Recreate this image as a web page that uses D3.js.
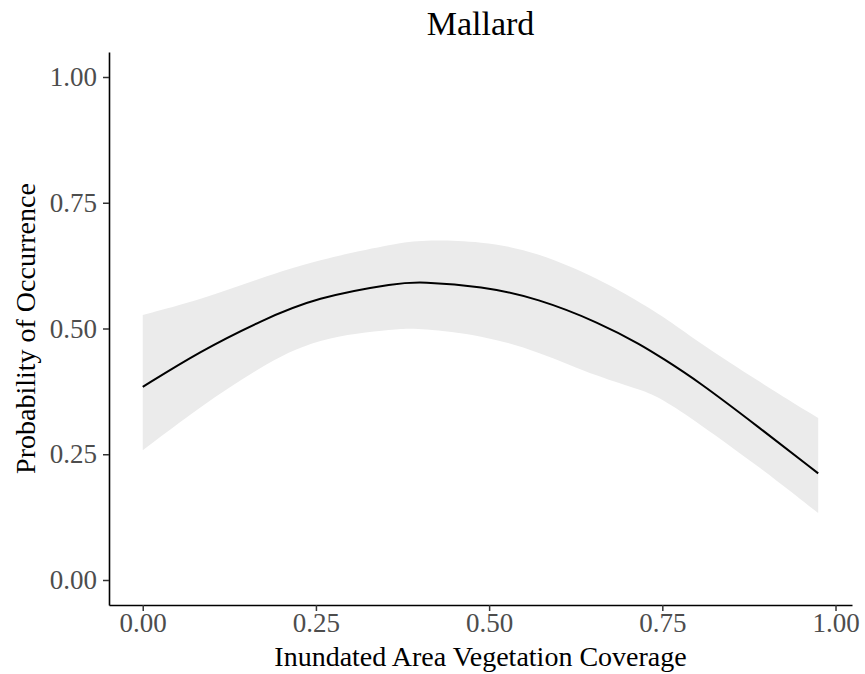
<!DOCTYPE html>
<html>
<head>
<meta charset="utf-8">
<script src="https://cdn.jsdelivr.net/npm/d3@7"></script>
<style>
  body { margin:0; background:#fff; }
  text { font-family: "Liberation Serif", "Times New Roman", serif; }
  .tick text { fill:#4d4d4d; font-size:27px; }
  .tick line { stroke:#333; stroke-width:1.5; }
  .domain { stroke:#000; stroke-width:1.6; }
</style>
</head>
<body>
<div id="chart"></div>
<script>
// values
const coverage = [0, 0.083, 0.17, 0.25, 0.37, 0.40, 0.49, 0.57, 0.66, 0.72, 0.75, 0.80, 0.89, 0.975];
const fitProb  = [0.384, 0.455, 0.515, 0.562, 0.591, 0.593, 0.584, 0.560, 0.511, 0.467, 0.441, 0.397, 0.303, 0.212];
const upperCI  = [0.527, 0.557, 0.600, 0.636, 0.670, 0.676, 0.674, 0.652, 0.598, 0.550, 0.525, 0.475, 0.394, 0.322];
const lowerCI  = [0.258, 0.345, 0.424, 0.482, 0.500, 0.500, 0.487, 0.455, 0.402, 0.378, 0.360, 0.314, 0.225, 0.133];
const tickVals = [0, 0.25, 0.5, 0.75, 1];

let width = 865, height = 674,
    margin = { top:52, left:109, right:13, bottom:69 },
    innerW = width - margin.left - margin.right,
    innerH = height - margin.top - margin.bottom;

let data = coverage.map((x,i) => ({ x:x, y:fitProb[i], lo:lowerCI[i], hi:upperCI[i] }));

let xScale = d3.scaleLinear().domain([-0.0487, 1.0238]).range([0, innerW]);
let yScale = d3.scaleLinear().domain([-0.0497, 1.0497]).range([innerH, 0]);

let svg = d3.select("#chart").append("svg").attr("width",width).attr("height",height);
let g = svg.append("g").attr("transform",`translate(${margin.left},${margin.top})`);

let area = d3.area().curve(d3.curveBasis)
    .x(d=>xScale(d.x)).y0(d=>yScale(d.lo)).y1(d=>yScale(d.hi));
let line = d3.line().curve(d3.curveBasis)
    .x(d=>xScale(d.x)).y(d=>yScale(d.y));

g.append("path").attr("d",area(data)).attr("fill","#ebebeb");
g.append("path").attr("d",line(data)).attr("fill","none").attr("stroke","#000").attr("stroke-width",2);

let fmt = d3.format(".2f");
let xAxis = d3.axisBottom(xScale).tickValues(tickVals).tickFormat(fmt).tickSize(6).tickPadding(2).tickSizeOuter(0);
let yAxis = d3.axisLeft(yScale).tickValues(tickVals).tickFormat(fmt).tickSize(6).tickPadding(6).tickSizeOuter(0);

g.append("g").attr("transform",`translate(0,${innerH})`).call(xAxis);
g.append("g").call(yAxis);

svg.append("text").attr("x", margin.left + innerW/2).attr("y", 35)
   .attr("text-anchor","middle").style("font-size","34px").text("Mallard");
svg.append("text").attr("x", margin.left + innerW/2).attr("y", 666)
   .attr("text-anchor","middle").style("font-size","28px").text("Inundated Area Vegetation Coverage");
svg.append("text").attr("transform",`translate(35,${margin.top + innerH/2}) rotate(-90)`)
   .attr("text-anchor","middle").style("font-size","28px").text("Probability of Occurrence");
</script>
</body>
</html>
